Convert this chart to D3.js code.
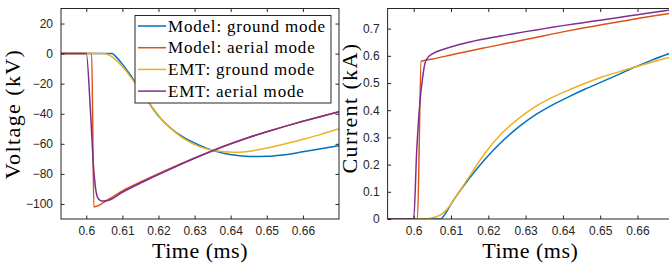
<!DOCTYPE html>
<meta charset="utf-8">
<style>
body { margin: 0; background: #fff; }
.tick text { font: 12px "Liberation Sans", Arial, sans-serif; fill: #262626; }
.tick line { stroke: #262626; }
.domain { display: none; }
.frame { fill: none; stroke: #262626; stroke-width: 1px; }
.lbl { font-family: "Liberation Serif", "DejaVu Serif", serif; fill: #000; }
.curve { fill: none; stroke-width: 1.5px; stroke-linejoin: round; }
</style>
<body>
<script src="https://d3js.org/d3.v7.min.js"></script>
<script>

// tick values
var timeTicks = [0.6, 0.61, 0.62, 0.63, 0.64, 0.65, 0.66];
var voltTicks = [-100, -80, -60, -40, -20, 0, 20];
var currTicks = [0, 0.1, 0.2, 0.3, 0.4, 0.5, 0.6, 0.7];

var seriesNames = ["Model: ground mode", "Model: aerial mode", "EMT: ground mode", "EMT: aerial mode"];
var seriesColors = ["#0072BD", "#D95319", "#EDB120", "#7E2F8E"];

// voltage (kV) vs time (ms)
var vModelGround = [[0.593,0],[0.6072,0],[0.608,-1.5],[0.610,-7],[0.612,-13.5],[0.614,-20.5],[0.616,-27.5],
	[0.618,-35],[0.620,-41.5],[0.622,-46.5],[0.624,-50.8],[0.626,-54.2],[0.628,-57],[0.631,-60.5],[0.634,-63.5],
	[0.638,-66.3],[0.642,-67.8],[0.646,-68.5],[0.650,-68.3],[0.655,-67.2],[0.660,-65.3],[0.665,-63.3],[0.670,-61.2]];
var vModelAerial = [[0.593,0],[0.6015,0],[0.6021,-102],[0.606,-97.2],[0.610,-91.3],[0.615,-85.4],[0.620,-79.8],
	[0.625,-74.5],[0.630,-69.4],[0.635,-64.6],[0.640,-60.0],[0.645,-55.8],[0.650,-52.0],[0.655,-48.4],
	[0.660,-45.0],[0.665,-41.8],[0.670,-38.7]];
var vEmtGround = [[0.593,0],[0.6045,0],[0.6055,-0.3],[0.6065,-1.2],[0.6075,-2.8],[0.609,-6],[0.611,-11.5],
	[0.613,-18],[0.615,-25],[0.617,-31.5],[0.619,-38],[0.621,-44],[0.623,-49],[0.625,-53],[0.627,-56.5],
	[0.630,-60.5],[0.634,-63.8],[0.638,-65.3],[0.641,-65.6],[0.644,-65.2],[0.648,-63.8],[0.652,-61.8],
	[0.656,-59.5],[0.660,-57],[0.665,-53.7],[0.670,-50]];
var vEmtAerial = [[0.593,0],[0.6000,0],[0.6012,-40],[0.6020,-75],[0.6026,-90],[0.6032,-96],[0.6040,-97.8],
	[0.6048,-98],[0.606,-97.7],[0.610,-92.2],[0.615,-86.1],[0.620,-80.4],[0.625,-74.9],[0.630,-69.6],
	[0.635,-64.6],[0.640,-60.0],[0.645,-55.8],[0.650,-52.0],[0.655,-48.4],[0.660,-45.0],[0.665,-41.8],[0.670,-38.7]];

// current (kA) vs time (ms)
var iModelGround = [[0.593,0],[0.6071,0],[0.6085,0.02],[0.6102,0.059],[0.6146,0.144],[0.619,0.218],
	[0.6236,0.284],[0.628,0.337],[0.6325,0.382],[0.637,0.418],[0.6415,0.449],[0.646,0.478],[0.6504,0.504],
	[0.655,0.532],[0.6593,0.559],[0.664,0.585],[0.670,0.616]];
var iModelAerial = [[0.593,0],[0.6010,0],[0.6020,0.58],[0.605,0.588],[0.610,0.603],[0.615,0.618],[0.620,0.632],
	[0.625,0.646],[0.630,0.66],[0.635,0.674],[0.640,0.688],[0.645,0.701],[0.650,0.713],[0.655,0.725],
	[0.660,0.737],[0.665,0.748],[0.670,0.759]];
var iEmtGround = [[0.593,0],[0.6035,0],[0.6048,0.004],[0.6062,0.009],[0.6075,0.018],[0.609,0.037],[0.611,0.075],
	[0.6146,0.15],[0.619,0.24],[0.6236,0.315],[0.628,0.368],[0.6325,0.412],[0.637,0.446],[0.6415,0.474],
	[0.646,0.499],[0.6504,0.522],[0.655,0.541],[0.6593,0.559],[0.664,0.577],[0.670,0.600]];
var iEmtAerial = [[0.593,0],[0.6000,0],[0.6008,0.25],[0.6018,0.45],[0.6024,0.52],[0.6030,0.572],[0.6038,0.594],
	[0.605,0.607],[0.608,0.624],[0.612,0.641],[0.616,0.654],[0.620,0.665],[0.625,0.677],[0.630,0.689],
	[0.635,0.700],[0.640,0.711],[0.645,0.721],[0.650,0.731],[0.655,0.741],[0.660,0.751],[0.665,0.761],[0.670,0.771]];

var W = 669, H = 265;
var svg = d3.select("body").append("svg")
	.attr("width", W).attr("height", H)
	.attr("xmlns", "http://www.w3.org/2000/svg");

function panel(opt) {
	var x = d3.scaleLinear().domain([0.593, 0.670]).range([opt.left, opt.right]);
	var y = d3.scaleLinear().domain(opt.yDomain).range([opt.bottom, opt.top]);
	var g = svg.append("g");

	var clipId = "clip" + opt.id;
	g.append("clipPath").attr("id", clipId).append("rect")
		.attr("x", opt.left).attr("y", opt.top)
		.attr("width", opt.right - opt.left).attr("height", opt.bottom - opt.top);

	var line = d3.line()
		.x(function(d) { return x(d[0]); })
		.y(function(d) { return y(d[1]); })
		.curve(d3.curveMonotoneX);

	g.append("g").attr("clip-path", "url(#" + clipId + ")")
		.selectAll("path")
		.data(opt.series)
		.enter().append("path")
			.attr("class", "curve")
			.attr("stroke", function(d, i) { return seriesColors[i]; })
			.attr("d", line);

	// axes, ticks pointing inwards like matlab
	g.append("g").attr("transform", "translate(0," + opt.bottom + ")")
		.call(d3.axisBottom(x).tickValues(timeTicks).tickSize(-3.5).tickPadding(7.5)
			.tickFormat(d3.format("~g")));
	g.append("g").attr("transform", "translate(0," + opt.top + ")")
		.call(d3.axisTop(x).tickValues(timeTicks).tickSize(-3.5).tickFormat(""));
	g.append("g").attr("transform", "translate(" + opt.left + ",0)")
		.call(d3.axisLeft(y).tickValues(opt.yTicks).tickSize(-3.5).tickPadding(8)
			.tickFormat(d3.format("~g")));
	g.append("g").attr("transform", "translate(" + opt.right + ",0)")
		.call(d3.axisRight(y).tickValues(opt.yTicks).tickSize(-3.5).tickFormat(""));

	g.append("rect").attr("class", "frame")
		.attr("x", opt.left).attr("y", opt.top)
		.attr("width", opt.right - opt.left).attr("height", opt.bottom - opt.top);

	g.append("text").attr("class", "lbl")
		.attr("x", (opt.left + Math.min(opt.right, W)) / 2 + opt.xlShift)
		.attr("y", 258)
		.attr("text-anchor", "middle")
		.style("font-size", "22px")
		.style("letter-spacing", "0.5px")
		.text("Time (ms)");

	g.append("text").attr("class", "lbl")
		.attr("transform", "translate(" + opt.ylX + "," + opt.ylY + ") rotate(-90)")
		.attr("text-anchor", "middle")
		.style("font-size", "22px")
		.style("letter-spacing", "1.4px")
		.text(opt.yLabel);
	return g;
}

panel({ id: "v", left: 61, right: 339, top: 8.5, bottom: 219,
	yDomain: [-110, 30], yTicks: voltTicks,
	series: [vModelGround, vModelAerial, vEmtGround, vEmtAerial],
	yLabel: "Voltage (kV)", ylX: 19.5, ylY: 114, xlShift: 0 });

panel({ id: "i", left: 387.6, right: 674.8, top: 8.5, bottom: 219,
	yDomain: [0, 0.774], yTicks: currTicks,
	series: [iModelGround, iModelAerial, iEmtGround, iEmtAerial],
	yLabel: "Current (kA)", ylX: 357, ylY: 108, xlShift: 2 });

// legend on the voltage panel
var leg = svg.append("g");
leg.append("rect")
	.attr("x", 135).attr("y", 15.5).attr("width", 196).attr("height", 87.5)
	.attr("fill", "#fff").attr("stroke", "#262626").attr("stroke-width", 1);
var item = leg.selectAll(".item")
	.data(seriesNames)
	.enter().append("g")
		.attr("transform", function(d, i) { return "translate(0," + (26 + i * 21.7) + ")"; });
item.append("line")
	.attr("x1", 138).attr("x2", 166)
	.attr("stroke", function(d, i) { return seriesColors[i]; })
	.attr("stroke-width", 1.5);
item.append("text").attr("class", "lbl")
	.attr("x", 168).attr("dy", "0.34em")
	.style("font-size", "17px")
	.style("letter-spacing", "0.8px")
	.text(function(d) { return d; });

</script>
</body>
